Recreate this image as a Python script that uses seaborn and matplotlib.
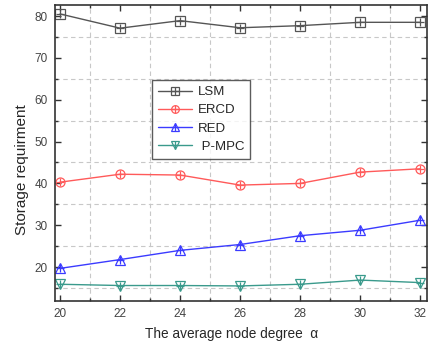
import numpy as np
import pandas as pd
import seaborn as sns
import matplotlib
matplotlib.use("Agg")
import matplotlib.pyplot as plt
from matplotlib.ticker import MultipleLocator
from matplotlib.legend_handler import HandlerTuple
from matplotlib.lines import Line2D

degree = [20, 22, 24, 26, 28, 30, 32]
lsm = [80.5, 77.1, 78.9, 77.2, 77.7, 78.5, 78.5]
ercd = [40.3, 42.2, 42.0, 39.6, 40.0, 42.7, 43.5]
red = [19.7, 21.8, 24.0, 25.4, 27.5, 28.8, 31.2]
pmpc = [15.9, 15.6, 15.6, 15.5, 15.9, 16.9, 16.3]
names = ["LSM", "ERCD", "RED", " P-MPC"]

sns.set_style("ticks")
plt.rcParams['font.family'] = ['Liberation Sans', 'DejaVu Sans']

fig = plt.figure(figsize=(4.33, 3.44), dpi=100)
ax = fig.add_axes([0.127, 0.125, 0.859, 0.860])

series = [lsm, ercd, red, pmpc]
colors = ["#555555", "#ff5a5a", "#3b3bff", "#3a9a8c"]
markers = ["s", "o", "^", "v"]
handles = []
for vals, name, c, m in zip(series, names, colors, markers):
    df = pd.DataFrame({"x": degree, "y": vals})
    sns.lineplot(data=df, x="x", y="y", ax=ax, color=c, lw=1.0,
                 marker=m, markersize=6.5, markerfacecolor="none",
                 markeredgecolor=c, markeredgewidth=0.9)
    sns.scatterplot(data=df, x="x", y="y", ax=ax, color=c, marker="+",
                    s=40, linewidth=0.9, zorder=5)
    h1 = Line2D([], [], color=c, lw=1.0, marker=m, markersize=5.5,
                markerfacecolor="none", markeredgecolor=c, markeredgewidth=0.9)
    h2 = Line2D([], [], color=c, lw=0, marker="+", markersize=6,
                markeredgewidth=0.9)
    handles.append((h1, h2))

ax.set_xlim(19.83, 32.23)
ax.set_ylim(11.9, 82.6)
ax.xaxis.set_major_locator(MultipleLocator(2))
ax.xaxis.set_minor_locator(MultipleLocator(1))
ax.yaxis.set_major_locator(MultipleLocator(10))
ax.yaxis.set_minor_locator(MultipleLocator(5))
ax.grid(which="minor", color="#c8c8c8", linestyle=(0, (4, 3)), lw=0.8)
ax.grid(which="major", visible=False)
ax.set_axisbelow(True)
ax.tick_params(which="both", direction="in", top=True, right=True,
               labelsize=8.5, colors="#333333", width=1.0)
ax.tick_params(which="major", length=4, pad=5)
ax.tick_params(which="minor", length=2.5)
for lab in ax.get_xticklabels() + ax.get_yticklabels():
    lab.set_color("#444444")
for s in ax.spines.values():
    s.set_linewidth(1.2)
    s.set_color("#333333")

ax.set_xlabel("The average node degree  \u03b1", fontsize=9.8)
ax.set_ylabel("Storage requirment", fontsize=11)
ax.xaxis.set_label_coords(0.476, -0.088)
ax.yaxis.set_label_coords(-0.089, 0.443)
ax.xaxis.label.set_va("top")
ax.yaxis.label.set_va("center")

leg = ax.legend(handles, names, handler_map={tuple: HandlerTuple(ndivide=1)},
                loc="upper left", bbox_to_anchor=(0.261, 0.747),
                borderaxespad=0,
                frameon=True, fancybox=False, edgecolor="#333333",
                fontsize=9.5, handlelength=2.6, labelspacing=0.45,
                borderpad=0.45, handletextpad=0.4)
leg.get_frame().set_linewidth(1.0)

fig.savefig("out.png", dpi=100)
